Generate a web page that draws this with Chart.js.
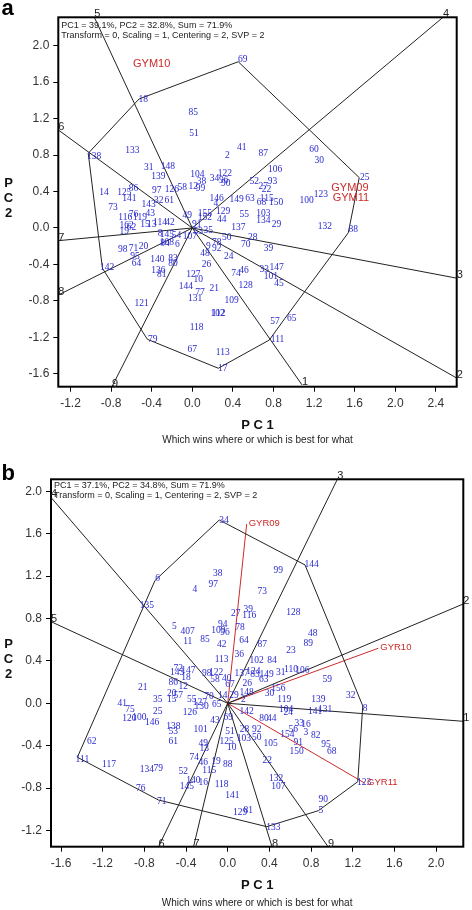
<!DOCTYPE html>
<html><head><meta charset="utf-8">
<script src="https://cdn.jsdelivr.net/npm/chart.js@4.4.0/dist/chart.umd.min.js"></script>
<style>
body{margin:0;background:#fff;width:472px;height:910px;position:relative;overflow:hidden}
canvas{position:absolute;left:0}
#ca{top:0}
#cb{top:455px}
</style></head><body>
<canvas id="ca" width="472" height="455"></canvas>
<canvas id="cb" width="472" height="455"></canvas>
<script>
// ---------- Panel a data ----------
const genoA = ["85","51","133","138","18","69","41","2","87","60",
"30","31","148","139","104","122","34","96","90","38",
"12","99","106","93","52","27","22","123","100","132",
"25","88","146","4","149","63","115","68","150","129",
"55","103","134","29","44","137","155","152","49","35",
"50","28","70","39","78","92","9","48","24","26",
"74","46","128","33","147","101","45","127","10","144",
"21","77","131","109","102","112","121","118","57","65",
"111","79","67","113","17","14","73","141","125","86",
"97","126","58","143","32","61","43","116","76","119",
"15","114","162","19","98","71","20","95","64","140",
"83","80","136","81","142","84","6","8","107","53",
"91","42","145","108","13","62","54"];
const pc1A = [0.01,0.017,-0.59,-0.968,-0.483,0.497,0.487,0.345,0.70,1.20,
1.25,-0.43,-0.24,-0.335,0.05,0.32,0.22,0.31,0.33,0.09,
0.01,0.08,0.815,0.79,0.61,0.70,0.73,1.268,1.127,1.307,
1.70,1.586,0.24,0.233,0.437,0.568,0.733,0.683,0.825,0.305,
0.512,0.70,0.70,0.83,0.29,0.453,0.125,0.125,-0.05,0.158,
0.34,0.595,0.526,0.75,0.24,0.24,0.158,0.125,0.36,0.14,
0.43,0.51,0.526,0.71,0.83,0.775,0.854,0.01,0.06,-0.062,
0.217,0.076,0.027,0.388,0.25,0.26,-0.50,0.043,0.815,0.98,
0.84,-0.39,0.0,0.30,0.30,-0.87,-0.78,-0.62,-0.67,-0.58,
-0.35,-0.2,-0.10,-0.43,-0.33,-0.227,-0.415,-0.66,-0.58,-0.515,
-0.465,-0.318,-0.646,-0.67,-0.685,-0.58,-0.48,-0.565,-0.55,-0.345,
-0.19,-0.19,-0.335,-0.30,-0.84,-0.27,-0.148,-0.318,-0.023,0.06,
0.043,-0.22,-0.25,-0.25,-0.40,-0.60,-0.155];
const pc2A = [1.27,1.04,0.855,0.789,1.414,1.842,0.88,0.79,0.82,0.866,
0.745,0.66,0.67,0.56,0.59,0.60,0.545,0.52,0.49,0.51,
0.46,0.435,0.636,0.515,0.515,0.45,0.42,0.37,0.296,0.014,
0.552,-0.014,0.318,0.27,0.307,0.318,0.326,0.28,0.28,0.186,
0.15,0.16,0.08,0.033,0.095,0.008,0.16,0.113,0.14,-0.022,
-0.10,-0.10,-0.18,-0.23,-0.16,-0.23,-0.205,-0.28,-0.31,-0.405,
-0.50,-0.47,-0.63,-0.45,-0.43,-0.53,-0.61,-0.515,-0.57,-0.64,
-0.66,-0.71,-0.77,-0.80,-0.94,-0.94,-0.826,-1.09,-1.02,-0.99,
-1.22,-1.22,-1.327,-1.36,-1.54,0.387,0.227,0.326,0.39,0.43,
0.41,0.417,0.446,0.26,0.30,0.296,0.16,0.117,0.153,0.117,
0.033,0.058,0.022,-0.04,-0.234,-0.22,-0.20,-0.31,-0.39,-0.34,
-0.33,-0.39,-0.47,-0.515,-0.435,-0.175,-0.18,-0.06,-0.095,-0.033,
0.033,0.058,-0.07,-0.16,0.04,0.0,-0.077];
const hullAx = [-1.025,-0.525,0.453,1.645,1.537,0.913,0.759,0.256,-0.443,-0.885];
const hullAy = [0.819,1.414,1.823,0.552,-0.052,-0.99,-1.228,-1.538,-1.22,-0.442];
const rayNamesA = ["1","2","3","4","5","6","7","8","9"];
const rayAx = [1.081,2.605,2.605,2.47,-0.965,-1.32,-1.32,-1.32,-0.791];
const rayAy = [-1.72,-1.645,-0.55,2.31,2.31,1.075,-0.139,-0.735,-1.74];
const envNamesA = ["GYM10","GYM09","GYM11"];
const envAx = [-0.40,1.553,1.563];
const envAy = [1.80,0.442,0.332];
const xTicksA = [-1.2,-0.8,-0.4,0.0,0.4,0.8,1.2,1.6,2.0,2.4];
const yTicksA = [-1.6,-1.2,-0.8,-0.4,0.0,0.4,0.8,1.2,1.6,2.0];
const headerA = ["PC1 = 39.1%, PC2 = 32.8%, Sum = 71.9%","Transform = 0, Scaling = 1, Centering = 2, SVP = 2"];

// ---------- Panel b data ----------
const genoB = ["38","97","4","99","73","6","135","34","144","8",
"123","5","90","133","71","111","62","117","134","79",
"76","39","27","116","128","5","407","11","85","94",
"109","96","78","64","42","87","48","89","23","36",
"113","102","84","137","124","83","149","63","31","110",
"106","59","26","148","30","156","119","139","32","104",
"24","141","131","142","80","44","33","16","56","3",
"82","154","92","28","103","50","105","91","150","95",
"68","22","132","107","69","43","51","125","10","101",
"49","13","88","19","115","46","74","52","118","16",
"140","145","141","129","81","21","41","75","120","100",
"146","35","25","20","15","57","12","86","72","147",
"143","18","98","122","58","40","67","14","55","127",
"130","70","65","126","138","53","61","29","2"];
const pc1B = [-0.096,-0.138,-0.314,0.486,0.332,-0.672,-0.777,-0.036,0.806,1.318,
1.308,0.893,0.917,0.438,-0.633,-1.395,-1.305,-1.139,-0.777,-0.666,
-0.835,0.198,0.077,0.207,0.63,-0.512,-0.384,-0.384,-0.218,-0.048,
-0.09,-0.026,0.118,0.156,-0.058,0.332,0.816,0.774,0.607,0.111,
-0.058,0.278,0.425,0.134,0.246,0.262,0.374,0.345,0.509,0.607,
0.716,0.956,0.188,0.182,0.40,0.486,0.543,0.87,1.18,0.56,
0.582,0.838,0.934,0.182,0.348,0.422,0.687,0.751,0.63,0.751,
0.845,0.572,0.278,0.16,0.156,0.278,0.413,0.678,0.662,0.943,
0.998,0.38,0.464,0.486,0.006,-0.122,0.022,-0.01,0.038,-0.259,
-0.234,-0.225,0,-0.112,-0.177,-0.234,-0.32,-0.426,-0.058,-0.234,
-0.33,-0.393,0.044,0.118,0.198,-0.816,-1.011,-0.938,-0.944,-0.848,
-0.725,-0.672,-0.672,-0.537,-0.537,-0.474,-0.426,-0.522,-0.474,-0.378,
-0.485,-0.40,-0.202,-0.112,-0.122,-0.01,0.022,-0.048,-0.346,-0.266,
-0.25,-0.18,-0.106,-0.362,-0.522,-0.522,-0.522,0.06,0.15];
const pc2B = [1.226,1.116,1.069,1.248,1.059,1.179,0.927,1.723,1.311,-0.047,
-0.749,-1.013,-0.906,-1.174,-0.928,-0.528,-0.362,-0.573,-0.623,-0.613,
-0.808,0.88,0.849,0.826,0.855,0.723,0.675,0.58,0.604,0.745,
0.682,0.666,0.713,0.59,0.55,0.55,0.66,0.566,0.496,0.462,
0.415,0.408,0.408,0.283,0.298,0.274,0.274,0.226,0.292,0.314,
0.305,0.22,0.189,0.10,0.088,0.142,0.031,0.031,0.069,-0.063,
-0.089,-0.079,-0.063,-0.079,-0.142,-0.142,-0.189,-0.198,-0.252,-0.274,
-0.305,-0.293,-0.245,-0.252,-0.33,-0.321,-0.377,-0.372,-0.457,-0.393,
-0.457,-0.544,-0.708,-0.787,-0.132,-0.167,-0.268,-0.362,-0.415,-0.245,
-0.377,-0.425,-0.582,-0.551,-0.636,-0.557,-0.509,-0.639,-0.764,-0.749,
-0.733,-0.787,-0.872,-1.032,-1.016,0.147,0,-0.054,-0.142,-0.136,
-0.179,0.038,-0.079,0.094,0.038,0.078,0.163,0.198,0.33,0.308,
0.29,0.245,0.283,0.289,0.229,0.236,0.173,0.078,0.038,0.006,
-0.032,0.062,-0.009,-0.089,-0.221,-0.268,-0.356,0.078,0.031];
const hullBx = [-1.443,-0.698,-0.081,0.742,1.296,1.248,0.87,0.374,-0.666];
const hullBy = [-0.509,1.158,1.729,1.305,-0.025,-0.74,-1.013,-1.164,-0.912];
const rayNamesB = ["1","2","3","4","5","6","7","8","9"];
const rayBx = [2.261,2.261,1.052,-1.696,-1.696,-0.664,-0.328,0.425,0.963];
const rayBy = [-0.17,0.937,2.113,1.942,0.77,-1.353,-1.353,-1.353,-1.353];
const envNamesB = ["GYR09","GYR10","GYR11"];
const envBx = [0.182,1.445,1.318];
const envBy = [1.691,0.519,-0.755];
const xTicksB = [-1.6,-1.2,-0.8,-0.4,0.0,0.4,0.8,1.2,1.6,2.0];
const yTicksB = [-1.2,-0.8,-0.4,0.0,0.4,0.8,1.2,1.6,2.0];
const headerB = ["PC1 = 37.1%, PC2 = 34.8%, Sum = 71.9%","Transform = 0, Scaling = 1, Centering = 2, SVP = 2"];
const subtitle = "Which wins where or which is best for what";

const SANS = '"Liberation Sans", Arial, sans-serif';
const SERIF = '"Liberation Serif", "Times New Roman", serif';

function makePanel(id, p) {
  const pts = p.geno.map((g, i) => ({x: p.pc1[i], y: p.pc2[i]}));
  const hull = p.hx.map((v, i) => ({x: v, y: p.hy[i]}));
  hull.push({x: p.hx[0], y: p.hy[0]});
  const datasets = [];
  datasets.push({data: hull, showLine: true, borderColor: '#222', borderWidth: 1, pointRadius: 0, fill: false});
  p.rx.forEach((v, i) => datasets.push({data: [{x: 0, y: 0}, {x: v, y: p.ry[i]}], showLine: true, borderColor: '#222', borderWidth: 1, pointRadius: 0}));
  if (p.vectors) {
    p.ex.forEach((v, i) => datasets.push({data: [{x: 0, y: 0}, {x: v, y: p.ey[i]}], showLine: true, borderColor: '#cc2a2a', borderWidth: 1, pointRadius: 0}));
  }
  datasets.push({data: pts, pointRadius: 0, showLine: false});

  const plugin = {
    id: 'biplotText' + id,
    afterDatasetsDraw(chart) {
      const ctx = chart.ctx, xs = chart.scales.x, ys = chart.scales.y;
      ctx.save();
      ctx.textAlign = 'center'; ctx.textBaseline = 'middle';
      ctx.fillStyle = '#2a2ad0';
      ctx.font = '9.5px ' + SERIF;
      p.geno.forEach((g, i) => ctx.fillText(g, xs.getPixelForValue(p.pc1[i]), ys.getPixelForValue(p.pc2[i])));
      ctx.fillStyle = '#cc2a2a';
      ctx.font = p.envFont + 'px ' + SANS;
      ctx.textAlign = p.vectors ? 'left' : 'center';
      p.en.forEach((n, i) => ctx.fillText(n, xs.getPixelForValue(p.ex[i]) + (p.vectors ? 2 : 0), ys.getPixelForValue(p.ey[i]) + (p.vectors ? -1 : 0)));
      ctx.restore();
    },
    afterDraw(chart) {
      const ctx = chart.ctx, a = chart.chartArea, xs = chart.scales.x, ys = chart.scales.y;
      ctx.save();
      ctx.strokeStyle = '#000'; ctx.lineWidth = 2;
      ctx.strokeRect(a.left, a.top, a.right - a.left, a.bottom - a.top);
      // ray labels
      ctx.fillStyle = '#222'; ctx.font = '11px ' + SANS;
      ctx.textAlign = 'center'; ctx.textBaseline = 'middle';
      p.rn.forEach((n, i) => ctx.fillText(n, xs.getPixelForValue(p.rx[i]) + 3, ys.getPixelForValue(p.ry[i]) - 3));
      // header
      ctx.fillStyle = '#222'; ctx.font = '9px ' + SANS; ctx.textAlign = 'left';
      ctx.fillText(p.header[0], a.left + 3, a.top + p.h1);
      ctx.fillText(p.header[1], a.left + 3, a.top + p.h1 + 10.5);
      // axis titles
      ctx.fillStyle = '#111'; ctx.font = 'bold 13px ' + SANS; ctx.textAlign = 'center';
      const cx = (a.left + a.right) / 2;
      ctx.fillText('P C 1', cx, a.bottom + 38.5);
      ctx.fillText('P', 8.5, p.yt);
      ctx.fillText('C', 8.5, p.yt + 15);
      ctx.fillText('2', 8.5, p.yt + 30);
      ctx.font = '10px ' + SANS; ctx.fillStyle = '#222';
      ctx.fillText(subtitle, cx, a.bottom + p.sub);
      // panel letter
      ctx.font = 'bold 22px ' + SANS; ctx.fillStyle = '#000'; ctx.textAlign = 'left'; ctx.textBaseline = 'alphabetic';
      ctx.fillText(p.letter, 1.5, p.letterY);
      ctx.restore();
    }
  };

  const tickFont = {family: SANS, size: 12};
  return new Chart(document.getElementById(id), {
    type: 'scatter',
    data: {datasets},
    options: {
      responsive: false, maintainAspectRatio: false, animation: false,
      layout: {padding: p.pad},
      plugins: {legend: {display: false}, tooltip: {enabled: false}},
      scales: {
        x: {
          type: 'linear', min: p.xmin, max: p.xmax,
          grid: {display: true, drawOnChartArea: false, drawTicks: true, tickLength: 5, color: '#000'},
          border: {display: false},
          ticks: {font: tickFont, color: '#333', padding: 5, maxRotation: 0, autoSkip: false, callback: v => v.toFixed(1)},
          afterBuildTicks: s => { s.ticks = p.xt.map(v => ({value: v})); },
          afterFit: s => { s.height = 40; }
        },
        y: {
          type: 'linear', min: p.ymin, max: p.ymax,
          grid: {display: true, drawOnChartArea: false, drawTicks: true, tickLength: 5, color: '#000'},
          border: {display: false},
          ticks: {font: tickFont, color: '#333', padding: 4, autoSkip: false, callback: v => v.toFixed(1)},
          afterBuildTicks: s => { s.ticks = p.yt2.map(v => ({value: v})); },
          afterFit: s => { s.width = p.yw; }
        }
      }
    },
    plugins: [plugin]
  });
}

makePanel('ca', {
  geno: genoA, pc1: pc1A, pc2: pc2A, hx: hullAx, hy: hullAy,
  rn: rayNamesA, rx: rayAx, ry: rayAy, en: envNamesA, ex: envAx, ey: envAy, vectors: false, envFont: 11,
  xmin: -1.32, xmax: 2.605, ymin: -1.74, ymax: 2.31, xt: xTicksA, yt2: yTicksA,
  pad: {left: 0, top: 17.3, right: 15.3, bottom: 28.3}, yw: 58.3,
  header: headerA, h1: 8, yt: 183.5, sub: 54, letter: 'a', letterY: 15
});
makePanel('cb', {
  geno: genoB, pc1: pc1B, pc2: pc2B, hx: hullBx, hy: hullBy,
  rn: rayNamesB, rx: rayBx, ry: rayBy, en: envNamesB, ex: envBx, ey: envBy, vectors: true, envFont: 9.5,
  xmin: -1.696, xmax: 2.261, ymin: -1.353, ymax: 2.113, xt: xTicksB, yt2: yTicksB,
  pad: {left: 0, top: 24.3, right: 8.7, bottom: 23.3}, yw: 51,
  header: headerB, h1: 6, yt: 189, sub: 57, letter: 'b', letterY: 25
});
</script>
</body></html>
